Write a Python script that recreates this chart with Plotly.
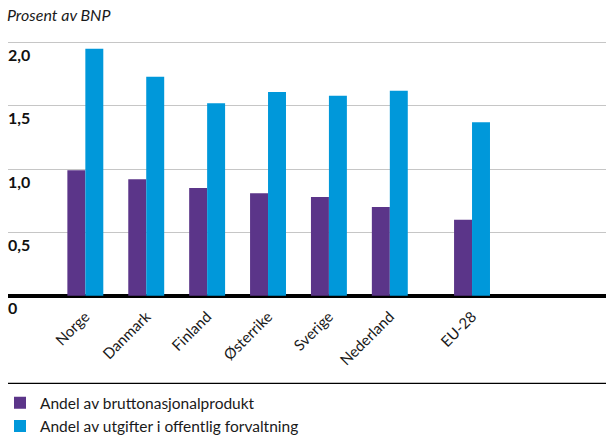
import plotly.graph_objects as go

categories = ["Norge", "Danmark", "Finland", "Østerrike", "Sverige", "Nederland", "EU-28"]
andel_bnp = [0.99, 0.92, 0.85, 0.81, 0.78, 0.70, 0.60]
andel_utgifter = [1.95, 1.73, 1.52, 1.61, 1.58, 1.62, 1.37]
series_names = ["Andel av bruttonasjonalprodukt", "Andel av utgifter i offentlig forvaltning"]
y_tickvals = [0, 0.5, 1.0, 1.5, 2.0]
y_ticktext = ["0", "0,5", "1,0", "1,5", "2,0"]

# extra spacing before the EU-28 aggregate
x_pos = [i + (0.35 if c == "EU-28" else 0) for i, c in enumerate(categories)]

PURPLE = "#5B3589"
BLUE = "#0098DA"
FONT = "Lato"
TXT = "#1a1a1a"

fig = go.Figure()
fig.add_trace(go.Bar(x=x_pos, y=andel_bnp, name=series_names[0], marker_color=PURPLE, marker_line_width=0))
fig.add_trace(go.Bar(x=x_pos, y=andel_utgifter, name=series_names[1], marker_color=BLUE, marker_line_width=0))

fig.update_layout(
    width=606, height=435,
    margin=dict(l=8, r=0, t=40, b=114, autoexpand=False),
    paper_bgcolor="white", plot_bgcolor="white",
    barmode="group", bargap=0.41, bargroupgap=0,
    font=dict(family=FONT, color=TXT),
    showlegend=True,
    legend=dict(
        xref="container", yref="container",
        x=0, y=0.112, xanchor="left", yanchor="top",
        orientation="v", font=dict(size=15.5, family=FONT, color=TXT),
        bgcolor="rgba(0,0,0,0)", itemwidth=30, tracegroupgap=0,
    ),
    annotations=[dict(
        text="<i>Prosent av BNP</i>", xref="paper", yref="paper",
        x=0, y=1, xanchor="left", yanchor="bottom", yshift=14, xshift=-3,
        showarrow=False, font=dict(size=16, family=FONT, color=TXT),
    )],
    shapes=[dict(
        type="line", xref="paper", yref="paper", x0=0, x1=1, y0=-0.2217, y1=-0.2217,
        line=dict(color="black", width=1.2),
    )],
)

fig.update_xaxes(
    range=[-1.27, 8.55], automargin=False,
    tickvals=x_pos, ticktext=categories, tickangle=-45,
    tickfont=dict(size=15, family=FONT, color=TXT),
    ticklabelstandoff=-17,
    showgrid=False, zeroline=False, showline=False, ticks="",
)
fig.update_yaxes(
    range=[-0.2, 2.02], automargin=False,
    tickvals=y_tickvals, ticktext=y_ticktext,
    tickfont=dict(size=16, family=FONT, color="#111", weight="bold"),
    ticklabelposition="inside", ticklabelshift=13, ticklabelstandoff=-3,
    showgrid=True, gridcolor="#C6C6C6", gridwidth=1.2,
    zeroline=True, zerolinecolor="black", zerolinewidth=3.5,
    showline=False, ticks="",
)

fig.write_html("out.html")
